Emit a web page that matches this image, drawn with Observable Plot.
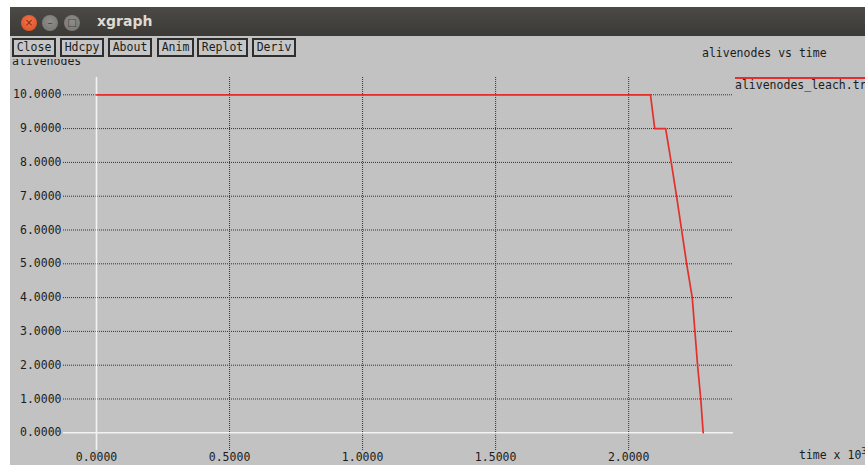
<!DOCTYPE html>
<html>
<head>
<meta charset="utf-8">
<script src="https://cdn.jsdelivr.net/npm/d3@7"></script>
<script src="https://cdn.jsdelivr.net/npm/@observablehq/plot@0.6"></script>
<style>
  html, body { margin: 0; padding: 0; background: #ffffff; overflow: hidden; width: 865px; height: 465px; }
  #win { position: absolute; left: 10px; top: 7px; width: 855px; height: 458px; background: #c2c2c2; }
  #chart { position: absolute; left: 10px; top: 7px; width: 855px; height: 458px; }
  .mono { font-family: "DejaVu Sans Mono", "Liberation Mono", monospace; font-size: 11.5px; color: #1c1c1c; white-space: nowrap; }
  .abs { position: absolute; line-height: 14px; }
  #titlebar { position: absolute; left: 10px; top: 7px; width: 855px; height: 29px;
    background: linear-gradient(#4b4a46, #3b3a36); }
  .circ { position: absolute; width: 16px; height: 16px; border-radius: 50%; top: 8px;
    font-family: "DejaVu Sans", sans-serif; font-size: 10px; line-height: 16px; text-align: center; }
  #apptitle { position: absolute; left: 87px; top: 6px; font-family: "DejaVu Sans", sans-serif;
    font-weight: bold; font-size: 14px; color: #dfdbd2; }
  #btnstrip { position: absolute; left: 10px; top: 36px; width: 295px; height: 23px; background: #c2c2c2; }
  .btn { position: absolute; top: 38px; height: 15px; border: 2px solid #2e2e2e; box-sizing: content-box;
    line-height: 15px; text-align: center; font-family: "DejaVu Sans Mono", "Liberation Mono", monospace;
    font-size: 11.5px; color: #1c1c1c; background: #c6c6c6; }
</style>
</head>
<body>
<div id="win"></div>
<div id="chart"></div>
<div id="ylabel" class="mono abs" style="left:12px; top:54px;"></div>
<div id="btnstrip"></div>
<div id="titlebar">
  <div class="circ" style="left:11px; background: radial-gradient(circle at 50% 40%, #f2774e, #d9481f); color:#7a2a10;">×</div>
  <div class="circ" style="left:32px; background: radial-gradient(circle at 50% 40%, #8f8e89, #73726e); color:#45443f;">–</div>
  <div class="circ" style="left:54px; background: radial-gradient(circle at 50% 40%, #8f8e89, #73726e); color:#45443f;">□</div>
  <div id="apptitle">xgraph</div>
</div>
<div id="buttons"></div>
<div id="ttl" class="mono abs" style="left:702px; top:46px;"></div>
<div style="position:absolute; left:735px; top:77px; width:130px; height:2px; background:#e3302c;"></div>
<div id="leg" class="mono abs" style="left:735px; top:78px;"></div>
<div id="xlabel" class="mono abs" style="left:799px; top:444px;"></div>
<script>
// ---- data (time in units of 10^3, number of alive nodes) ----
const time  = [0, 2.082, 2.098, 2.139, 2.160, 2.180, 2.199, 2.218, 2.239, 2.249, 2.259, 2.271, 2.280];
const alive = [10, 10, 9, 9, 8, 7, 6, 5, 4, 3, 2, 1, 0];
const xTicks = [0, 0.5, 1.0, 1.5, 2.0];
const yTicks = [0, 1, 2, 3, 4, 5, 6, 7, 8, 9, 10];
const seriesName = "alivenodes_leach.tr";
const chartTitle = "alivenodes vs time";
const yLabel = "alivenodes";
const xLabel = "time x 10";
const xExp = "3";
const buttonLabels = ["Close", "Hdcpy", "About", "Anim", "Replot", "Deriv"];

const fmt = d => d.toFixed(4);
const rows = time.map((t, i) => ({t, n: alive[i]}));

const plot = Plot.plot({
  width: 855,
  height: 458,
  marginLeft: 53,
  marginRight: 132,
  marginTop: 70,
  marginBottom: 15,
  x: {domain: [-0.124, 2.394], axis: null},
  y: {domain: [-0.524, 10.512], axis: null},
  style: {background: "#c2c2c2", fontFamily: "DejaVu Sans Mono, Liberation Mono, monospace", fontSize: "11.5px", color: "#1c1c1c", overflow: "visible"},
  marks: [
    Plot.ruleY(yTicks.filter(d => d !== 0), {y: d => d, stroke: "#333333", strokeDasharray: "1,1", strokeWidth: 1}),
    Plot.ruleX(xTicks.filter(d => d !== 0), {x: d => d, stroke: "#333333", strokeDasharray: "1,1", strokeWidth: 1}),
    Plot.ruleY([0], {stroke: "#f2f2f2", strokeWidth: 1.6}),
    Plot.ruleX([0], {stroke: "#f2f2f2", strokeWidth: 1.6}),
    Plot.line(rows, {x: "t", y: "n", stroke: "#e3302c", strokeWidth: 1.7}),
    Plot.text(yTicks, {y: d => d, frameAnchor: "left", text: fmt, textAnchor: "end", dx: -2, fill: "#1c1c1c"}),
    Plot.text(xTicks, {x: d => d, frameAnchor: "bottom", text: fmt, lineAnchor: "top", dy: 2, fill: "#1c1c1c"})
  ]
});
plot.style.position = "absolute";
plot.style.left = "0px";
plot.style.top = "0px";
plot.style.maxWidth = "none";
plot.style.width = "855px";
plot.style.height = "458px";
document.getElementById("chart").appendChild(plot);

document.getElementById("ylabel").textContent = yLabel;
document.getElementById("ttl").textContent = chartTitle;
document.getElementById("leg").textContent = seriesName;
const xl = document.getElementById("xlabel");
xl.textContent = xLabel;
const sup = document.createElement("span");
sup.textContent = xExp;
sup.style.fontSize = "9px";
sup.style.verticalAlign = "5px";
xl.appendChild(sup);

const btnPos = [[12, 40], [60, 40], [108, 40], [157, 33], [197, 47], [252, 40]];
const bc = document.getElementById("buttons");
buttonLabels.forEach((b, i) => {
  const el = document.createElement("div");
  el.className = "btn";
  el.style.left = btnPos[i][0] + "px";
  el.style.width = btnPos[i][1] + "px";
  el.textContent = b;
  bc.appendChild(el);
});
</script>
</body>
</html>
